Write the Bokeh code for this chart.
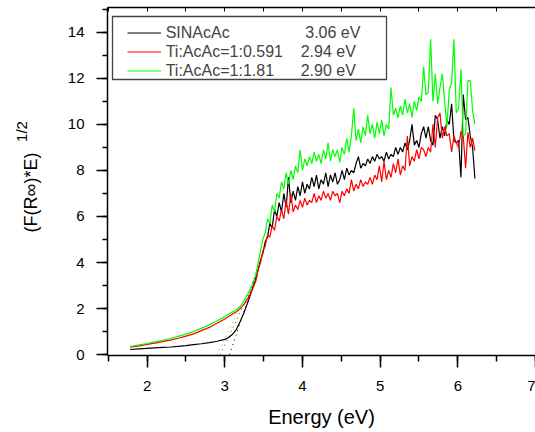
import math
from bokeh.plotting import figure
from bokeh.layouts import row
from bokeh.models import (Range1d, LinearAxis, SingleIntervalTicker, Legend,
                          LegendItem, BoxAnnotation, CustomJSTickFormatter, Label)
from bokeh.embed import file_html
from bokeh.resources import INLINE

# ---------------- data ----------------
ENERGY = [1.78, 1.90, 2.00, 2.10, 2.20, 2.30, 2.40, 2.50, 2.60, 2.70,
          2.80, 2.90, 3.00, 3.05, 3.10, 3.15, 3.20, 3.25, 3.30, 3.35, 3.40,
          3.43, 3.46, 3.49, 3.52, 3.55, 3.58, 3.61, 3.64, 3.67, 3.70,
          3.73, 3.76, 3.79, 3.82, 3.85, 3.88, 3.91, 3.94, 3.97, 4.00,
          4.03, 4.06, 4.09, 4.12, 4.15, 4.18, 4.21, 4.24, 4.27, 4.30,
          4.33, 4.36, 4.39, 4.42, 4.45, 4.48, 4.51, 4.54, 4.57, 4.60,
          4.63, 4.66, 4.69, 4.72, 4.75, 4.78, 4.81, 4.84, 4.87, 4.90,
          4.93, 4.96, 4.99, 5.02, 5.05, 5.08, 5.11, 5.14, 5.17, 5.20,
          5.23, 5.26, 5.29, 5.32, 5.35, 5.38, 5.41, 5.44, 5.47, 5.50,
          5.53, 5.56, 5.59, 5.62, 5.65, 5.68, 5.71, 5.74, 5.77, 5.80,
          5.83, 5.86, 5.89, 5.92, 5.95, 5.98, 6.01, 6.04, 6.07, 6.10,
          6.13, 6.16, 6.19, 6.22]

SINACAC = [0.22, 0.25, 0.27, 0.29, 0.31, 0.33, 0.36, 0.39, 0.43, 0.47,
           0.52, 0.58, 0.66, 0.74, 0.88, 1.10, 1.45, 1.85, 2.30, 2.80, 3.30,
           3.7, 4.1, 4.4, 4.9, 5.1, 5.7, 5.5, 6.3, 6.0, 6.6,
           6.2, 7.0, 6.4, 7.7, 6.6, 7.1, 6.7, 7.3, 6.9, 7.5,
           7.0, 7.4, 7.2, 7.7, 7.3, 7.8, 7.2, 7.6, 7.4, 7.9,
           7.3, 7.8, 7.5, 7.9, 7.4, 7.6, 8.0, 7.6, 8.1, 7.8,
           8.0, 7.9, 8.3, 8.6, 8.1, 8.3, 8.2, 8.5, 8.3, 8.6,
           8.4, 8.7, 8.5, 8.6, 8.4, 8.8, 8.5, 8.7, 8.6, 9.0,
           8.7, 9.0, 8.8, 9.2, 8.9, 9.3, 10.0, 9.1, 9.3, 9.0,
           9.6, 9.9, 9.4, 9.9, 9.3, 9.1, 10.4, 10.2, 9.4, 9.9,
           9.5, 10.2, 10.0, 10.9, 9.3, 9.2, 9.3, 7.7, 11.3, 10.2,
           10.3, 9.5, 9.0, 7.65]

TI_0591 = [0.32, 0.38, 0.44, 0.50, 0.56, 0.63, 0.71, 0.80, 0.90, 1.04,
           1.18, 1.36, 1.55, 1.65, 1.76, 1.86, 2.00, 2.20, 2.45, 2.80, 3.20,
           3.7, 4.0, 4.5, 4.7, 5.2, 5.1, 5.6, 5.4, 6.0, 5.8,
           6.3, 5.9, 6.7, 6.1, 7.0, 6.2, 6.5, 6.3, 6.7, 6.4,
           6.8, 6.5, 6.7, 6.6, 7.0, 6.6, 6.9, 6.7, 7.1, 6.8,
           7.0, 6.7, 7.1, 6.9, 7.0, 6.6, 7.1, 6.9, 7.2, 7.0,
           7.6, 7.1, 7.4, 7.2, 7.6, 7.3, 7.5, 7.4, 7.7, 7.4,
           7.8, 7.6, 8.2, 7.5, 8.4, 7.6, 8.0, 7.7, 8.3, 7.9,
           8.5, 7.8, 8.2, 8.0, 9.5, 8.2, 8.6, 8.4, 8.9, 8.5,
           9.0, 8.9, 8.6, 9.0, 8.8, 10.0, 9.0, 10.3, 10.5, 9.4,
           9.9, 9.5, 9.6, 8.8, 9.5, 9.2, 9.0, 9.7, 9.5, 8.1,
           9.66, 9.0, 9.4, 8.86]

TI_181 = [0.35, 0.42, 0.48, 0.55, 0.62, 0.70, 0.79, 0.89, 1.00, 1.14,
          1.29, 1.46, 1.65, 1.75, 1.85, 1.95, 2.10, 2.35, 2.65, 3.00, 3.50,
          4.0, 4.5, 5.0, 5.3, 5.9, 5.7, 6.5, 6.2, 7.0, 6.8,
          7.5, 7.2, 7.9, 7.4, 8.0, 7.6, 8.2, 7.9, 8.9, 8.0,
          8.5, 8.2, 8.6, 8.3, 8.8, 8.4, 8.7, 8.3, 8.9, 8.5,
          9.2, 8.4, 8.9, 8.6, 8.9, 8.35, 9.0, 8.7, 9.4, 8.8,
          9.5, 10.7, 9.3, 9.8, 9.2, 9.9, 9.5, 10.4, 9.6, 10.0,
          9.4, 10.1, 9.6, 10.2, 9.5, 10.0, 9.8, 11.6, 10.4, 10.7,
          10.3, 10.8, 10.4, 11.1, 10.5, 10.9, 10.3, 11.0, 10.6, 11.2,
          11.0, 12.5, 11.3, 11.4, 13.7, 11.0, 12.2, 10.9, 11.6, 12.2,
          11.0, 9.9, 11.5, 11.8, 13.7, 10.5, 10.7, 12.4, 9.5, 9.6,
          11.9, 11.9, 10.6, 10.0]

# band-gap extrapolation (tangent) lines: intercept and upper point
TANGENT_X = [[3.06, 3.42], [2.94, 3.42], [2.90, 3.42]]
TANGENT_Y = [[0.0, 3.6], [0.0, 3.4], [0.0, 3.6]]

SERIES_NAMES = ["SINAcAc", "Ti:AcAc=1:0.591", "Ti:AcAc=1:1.81"]
BAND_GAPS = ["3.06 eV", "2.94 eV", "2.90 eV"]
NAME_GAP_SPACES = [17, 4, 6]
COLORS = ["#000000", "#FF0000", "#00FF00"]

X_LABEL = "Energy (eV)"
Y_LABEL = "(F(R\u221e)*E)"
Y_LABEL_POWER = "1/2"

X_TICK_INTERVAL = 1
Y_TICK_INTERVAL = 2

FONT = "Liberation Sans"
NBSP = "\u00a0"
TITLE_W = 50
BORDER_TOP = 7
BORDER_BOTTOM = 77

# ---- narrow strip on the left that carries the y title ----
t = figure(width=TITLE_W, height=432, x_range=Range1d(0, 1), y_range=Range1d(0, 1),
           output_backend="svg", toolbar_location=None,
           min_border_left=0, min_border_right=0,
           min_border_top=BORDER_TOP, min_border_bottom=BORDER_BOTTOM)
t.axis.visible = False
t.grid.visible = False
t.outline_line_color = None
t.background_fill_color = "white"
t.border_fill_color = "white"
t.add_layout(Label(x=30, y=163, x_units="screen", y_units="screen", text=Y_LABEL,
                   angle=math.pi / 2, text_align="center", text_baseline="middle",
                   text_font=FONT, text_font_size="18px", text_color="black"))
t.add_layout(Label(x=21, y=224, x_units="screen", y_units="screen", text=Y_LABEL_POWER,
                   angle=math.pi / 2, text_align="center", text_baseline="middle",
                   text_font=FONT, text_font_size="15px", text_color="black"))

# ---- main chart ----
p = figure(width=535 - TITLE_W, height=432,
           x_range=Range1d(1.49, 7.0), y_range=Range1d(-0.04, 15.08),
           output_backend="svg", toolbar_location=None,
           min_border_left=107 - TITLE_W, min_border_right=0,
           min_border_top=BORDER_TOP, min_border_bottom=BORDER_BOTTOM)
p.background_fill_color = "white"
p.border_fill_color = "white"
p.outline_line_color = None
p.xgrid.visible = False
p.ygrid.visible = False

for ax in (p.xaxis[0], p.yaxis[0]):
    ax.axis_line_width = 1.5
    ax.major_tick_line_width = 1.5
    ax.minor_tick_line_width = 1.5
    ax.axis_line_color = "black"
    ax.major_tick_in = 0
    ax.minor_tick_in = 0
    ax.major_label_text_font = FONT
    ax.major_label_text_font_size = "15px"
    ax.major_label_text_color = "black"
    ax.axis_label_text_font = FONT
    ax.axis_label_text_font_style = "normal"
    ax.axis_label_text_color = "black"

p.xaxis.ticker = SingleIntervalTicker(interval=X_TICK_INTERVAL, num_minor_ticks=2)
p.yaxis.ticker = SingleIntervalTicker(interval=Y_TICK_INTERVAL, num_minor_ticks=2)
p.xaxis.major_tick_out = 12
p.xaxis.minor_tick_out = 6
p.yaxis.major_tick_out = 11
p.yaxis.minor_tick_out = 5
p.xaxis.major_label_standoff = 13
p.yaxis.major_label_standoff = 12

p.xaxis.axis_label = X_LABEL
p.xaxis.axis_label_text_font_size = "20px"
p.xaxis.axis_label_standoff = 12

top = LinearAxis(ticker=SingleIntervalTicker(interval=0.5, num_minor_ticks=0),
                 formatter=CustomJSTickFormatter(code="return ''"),
                 major_tick_in=4, major_tick_out=0, minor_tick_in=0, minor_tick_out=0,
                 major_label_standoff=0, axis_line_width=1.5, major_tick_line_width=1.0)
p.add_layout(top, "above")

# curves
renderers = []
for ys, c in zip([SINACAC, TI_0591, TI_181], COLORS):
    r = p.line(ENERGY, ys, line_color=c, line_width=1.2)
    renderers.append(r)

for tx, ty, c in zip(TANGENT_X, TANGENT_Y, COLORS):
    p.line(tx, ty, line_color=c, line_width=1, line_dash="1 4")

# legend frame
box = BoxAnnotation(left=5, right=279, top=339, bottom=276,
                    left_units="screen", right_units="screen",
                    top_units="screen", bottom_units="screen",
                    fill_color="white", fill_alpha=1.0,
                    line_color="#444444", line_width=1.3, line_alpha=1.0)
p.add_layout(box)

items = []
for name, gap, n, r in zip(SERIES_NAMES, BAND_GAPS, NAME_GAP_SPACES, renderers):
    items.append(LegendItem(label=name + NBSP * n + gap, renderers=[r]))
legend = Legend(items=items, location=(19.7, 275.0), padding=5, spacing=0,
                glyph_width=34, glyph_height=19, label_height=19, label_standoff=5,
                label_text_font=FONT, label_text_font_size="16px",
                border_line_color=None, background_fill_alpha=0.0)
p.add_layout(legend)

layout = row(t, p, spacing=0)
open("out.html", "w").write(file_html(layout, INLINE))
